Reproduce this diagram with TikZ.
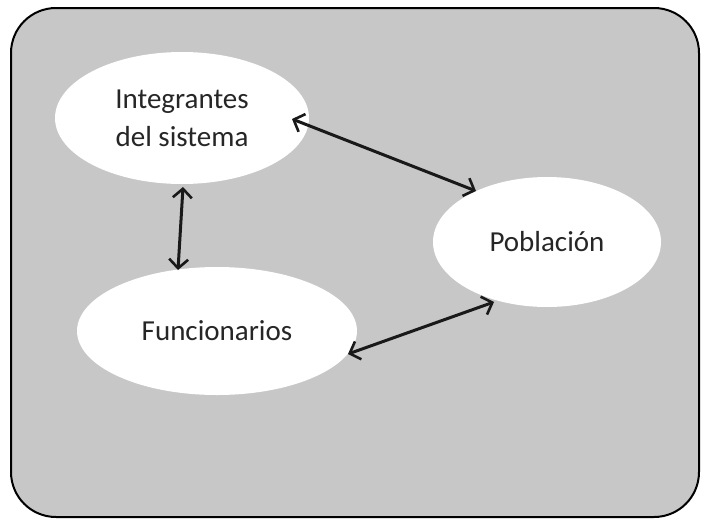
\documentclass[tikz,border=0pt]{standalone}
\usepackage{fontspec}
\setmainfont{Carlito}
\usetikzlibrary{shapes.geometric,arrows.meta}
\begin{document}
\begin{tikzpicture}[x=1pt,y=-1pt,
  bubble/.style={ellipse,fill=white,inner sep=0pt,align=center,
    font=\fontsize{29}{38}\selectfont,text=black!85},
  link/.style={line width=3pt,black!90,{Straight Barb[length=9pt,width=19pt,line width=2.6pt]}-{Straight Barb[length=9pt,width=19pt,line width=2.6pt]}}]
\useasboundingbox (0,0) rectangle (704,525);
\path[draw=black,line width=2pt,fill=black!22,rounded corners=45pt] (11,8) rectangle (699,517);
\node[bubble,minimum width=254pt,minimum height=132pt] (int) at (182,118) {Integrantes\\del sistema};
\node[bubble,minimum width=228pt,minimum height=130pt] (pob) at (547,242) {Población};
\node[bubble,minimum width=280pt,minimum height=128pt] (fun) at (217,331) {Funcionarios};
\coordinate (a1) at (292,119);
\coordinate (a2) at (476,191);
\coordinate (b1) at (183,187);
\coordinate (b2) at (178,270);
\coordinate (c1) at (348,354);
\coordinate (c2) at (494,302);
\draw[link] (a1) -- (a2);
\draw[link] (b1) -- (b2);
\draw[link] (c1) -- (c2);
\end{tikzpicture}
\end{document}
